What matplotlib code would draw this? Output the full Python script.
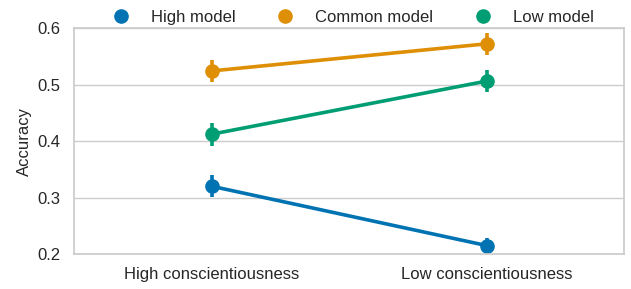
import matplotlib
matplotlib.use("Agg")
import matplotlib.pyplot as plt
import seaborn as sns

# data
categories = ["High conscientiousness", "Low conscientiousness"]
series = ["High model", "Common model", "Low model"]
means = {
    "High model": [0.320, 0.215],
    "Common model": [0.524, 0.572],
    "Low model": [0.412, 0.506],
}
errs = {
    "High model": [0.019, 0.014],
    "Common model": [0.020, 0.019],
    "Low model": [0.020, 0.019],
}

sns.set_theme(style="whitegrid")
plt.rcParams['font.family'] = ['Liberation Sans', 'DejaVu Sans']
colors = sns.color_palette("colorblind")[:3]

fig, ax = plt.subplots(figsize=(6.31, 2.89), dpi=100)
x = list(range(len(categories)))
for name, c in zip(series, colors):
    ax.errorbar(x, means[name], yerr=errs[name], color=c, lw=2.6,
                elinewidth=2.6, marker="o", ms=9.5, capsize=0, label=name)

ax.set_xticks(x)
ax.set_xticklabels(categories, fontsize=12)
ax.set_xlim(-0.5, 1.5)
ax.set_ylim(0.2, 0.6)
ax.set_yticks([0.2, 0.3, 0.4, 0.5, 0.6])
ax.tick_params(axis="y", labelsize=12)
ax.set_ylabel("Accuracy", fontsize=12)
ax.grid(axis="x", visible=False)

handles = [plt.Line2D([], [], color=c, marker="o", ls="", ms=9.5) for c in colors]
ax.legend(handles, series, loc="lower center", bbox_to_anchor=(0.5, 0.985),
          ncol=3, frameon=False, fontsize=12, borderaxespad=0)

fig.subplots_adjust(left=0.1173, right=0.9889, top=0.9031, bottom=0.1211)
fig.savefig("out.png", dpi=100)
